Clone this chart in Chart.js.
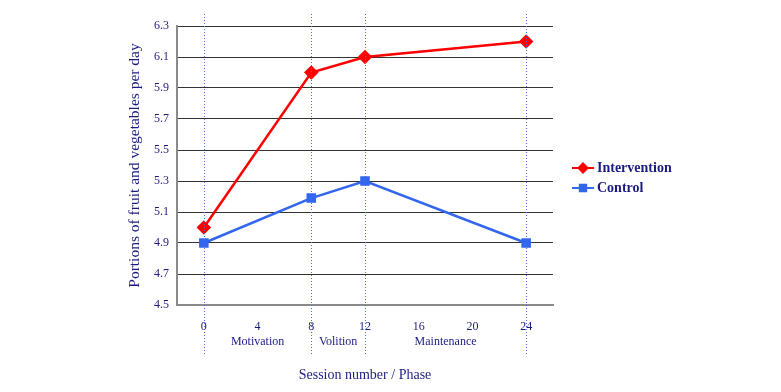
<!DOCTYPE html>
<html>
<head>
<meta charset="utf-8">
<script src="https://cdn.jsdelivr.net/npm/chart.js@4"></script>
<style>
    html, body { margin: 0; padding: 0; background: #fff; }
    #wrap { width: 781px; height: 392px; }
</style>
</head>
<body>
<div id="wrap"><canvas id="chart"></canvas></div>
<script>
// Data
const sessions = [0, 8, 12, 24];
const intervention = [5.0, 6.0, 6.1, 6.2];
const control = [4.9, 5.19, 5.3, 4.9];

const xTicks = [0, 4, 8, 12, 16, 20, 24];
const phaseBounds = [0, 8, 12, 24];
const phaseNames = ['Motivation', 'Volition', 'Maintenance'];

const navy = '#1c1c80';
const serif = '"Liberation Serif", "DejaVu Serif", serif';

// dotted phase lines, phase names and legend
const phasePlugin = {
    id: 'phases',
    afterDraw(chart) {
        const ctx = chart.ctx;
        const x = chart.scales.x;
        const area = chart.chartArea;
        ctx.save();
        ctx.strokeStyle = '#4a6fd0';
        ctx.lineWidth = 1;
        ctx.setLineDash([1, 2]);
        phaseBounds.forEach(v => {
            const px = Math.round(x.getPixelForValue(v)) + 0.5;
            ctx.beginPath();
            ctx.moveTo(px, area.top - 12);
            ctx.lineTo(px, area.bottom + 50);
            ctx.stroke();
        });
        ctx.setLineDash([]);

        ctx.fillStyle = navy;
        ctx.font = '12px ' + serif;
        ctx.textAlign = 'center';
        ctx.textBaseline = 'middle';
        phaseNames.forEach((name, i) => {
            const mid = (phaseBounds[i] + phaseBounds[i + 1]) / 2;
            ctx.fillText(name, x.getPixelForValue(mid), area.bottom + 37);
        });

        // legend
        const items = [
            { label: 'Intervention', color: '#ff0000', style: 'rectRot' },
            { label: 'Control', color: '#3366ee', style: 'rect' }
        ];
        const lx = area.right + 19;
        let ly = 168;
        ctx.font = 'bold 14px ' + serif;
        ctx.textAlign = 'left';
        items.forEach(it => {
            ctx.strokeStyle = it.color;
            ctx.fillStyle = it.color;
            ctx.lineWidth = 2;
            ctx.beginPath();
            ctx.moveTo(lx, ly);
            ctx.lineTo(lx + 22, ly);
            ctx.stroke();
            Chart.helpers.drawPoint(ctx, { pointStyle: it.style, radius: 4.5, borderWidth: 1 }, lx + 11, ly);
            ctx.fillStyle = navy;
            ctx.fillText(it.label, lx + 25, ly);
            ly += 20;
        });
        ctx.restore();
    }
};

new Chart(document.getElementById('chart'), {
    type: 'line',
    data: {
        datasets: [
            {
                label: 'Intervention',
                data: sessions.map((s, i) => ({ x: s, y: intervention[i] })),
                borderColor: '#ff0000',
                backgroundColor: '#ff0000',
                borderWidth: 2.5,
                pointStyle: 'rectRot',
                pointRadius: 5.5,
                pointHoverRadius: 5.5,
                tension: 0
            },
            {
                label: 'Control',
                data: sessions.map((s, i) => ({ x: s, y: control[i] })),
                borderColor: '#3366ee',
                backgroundColor: '#3366ee',
                borderWidth: 2.5,
                pointStyle: 'rect',
                pointRadius: 5,
                pointHoverRadius: 5,
                tension: 0
            }
        ]
    },
    options: {
        responsive: true,
        maintainAspectRatio: false,
        animation: false,
        layout: {
            padding: { left: 126, right: 228, top: 26, bottom: 8 }
        },
        plugins: {
            legend: { display: false },
            tooltip: { enabled: false }
        },
        scales: {
            x: {
                type: 'linear',
                min: -2,
                max: 26,
                afterBuildTicks: scale => {
                    scale.ticks = xTicks.map(v => ({ value: v }));
                },
                afterFit: scale => {
                    scale.height = 79;
                },
                grid: { display: false, drawTicks: false },
                border: { color: '#8a8a8a', width: 2 },
                ticks: {
                    padding: 15,
                    color: navy,
                    font: { family: serif, size: 12 },
                    maxRotation: 0
                },
                title: {
                    display: true,
                    text: 'Session number / Phase',
                    color: navy,
                    font: { family: serif, size: 14 },
                    padding: 0
                }
            },
            y: {
                min: 4.5,
                max: 6.3,
                afterFit: scale => {
                    scale.width = 51;
                },
                grid: { color: '#333333', lineWidth: 1, drawTicks: false },
                border: { color: '#8a8a8a', width: 2 },
                ticks: {
                    stepSize: 0.2,
                    padding: 8,
                    color: navy,
                    font: { family: serif, size: 12 },
                    callback: v => v.toFixed(1)
                },
                title: {
                    display: true,
                    text: 'Portions of fruit and vegetables per day',
                    color: navy,
                    font: { family: serif, size: 15.5 },
                    padding: 0
                }
            }
        }
    },
    plugins: [phasePlugin]
});
</script>
</body>
</html>
